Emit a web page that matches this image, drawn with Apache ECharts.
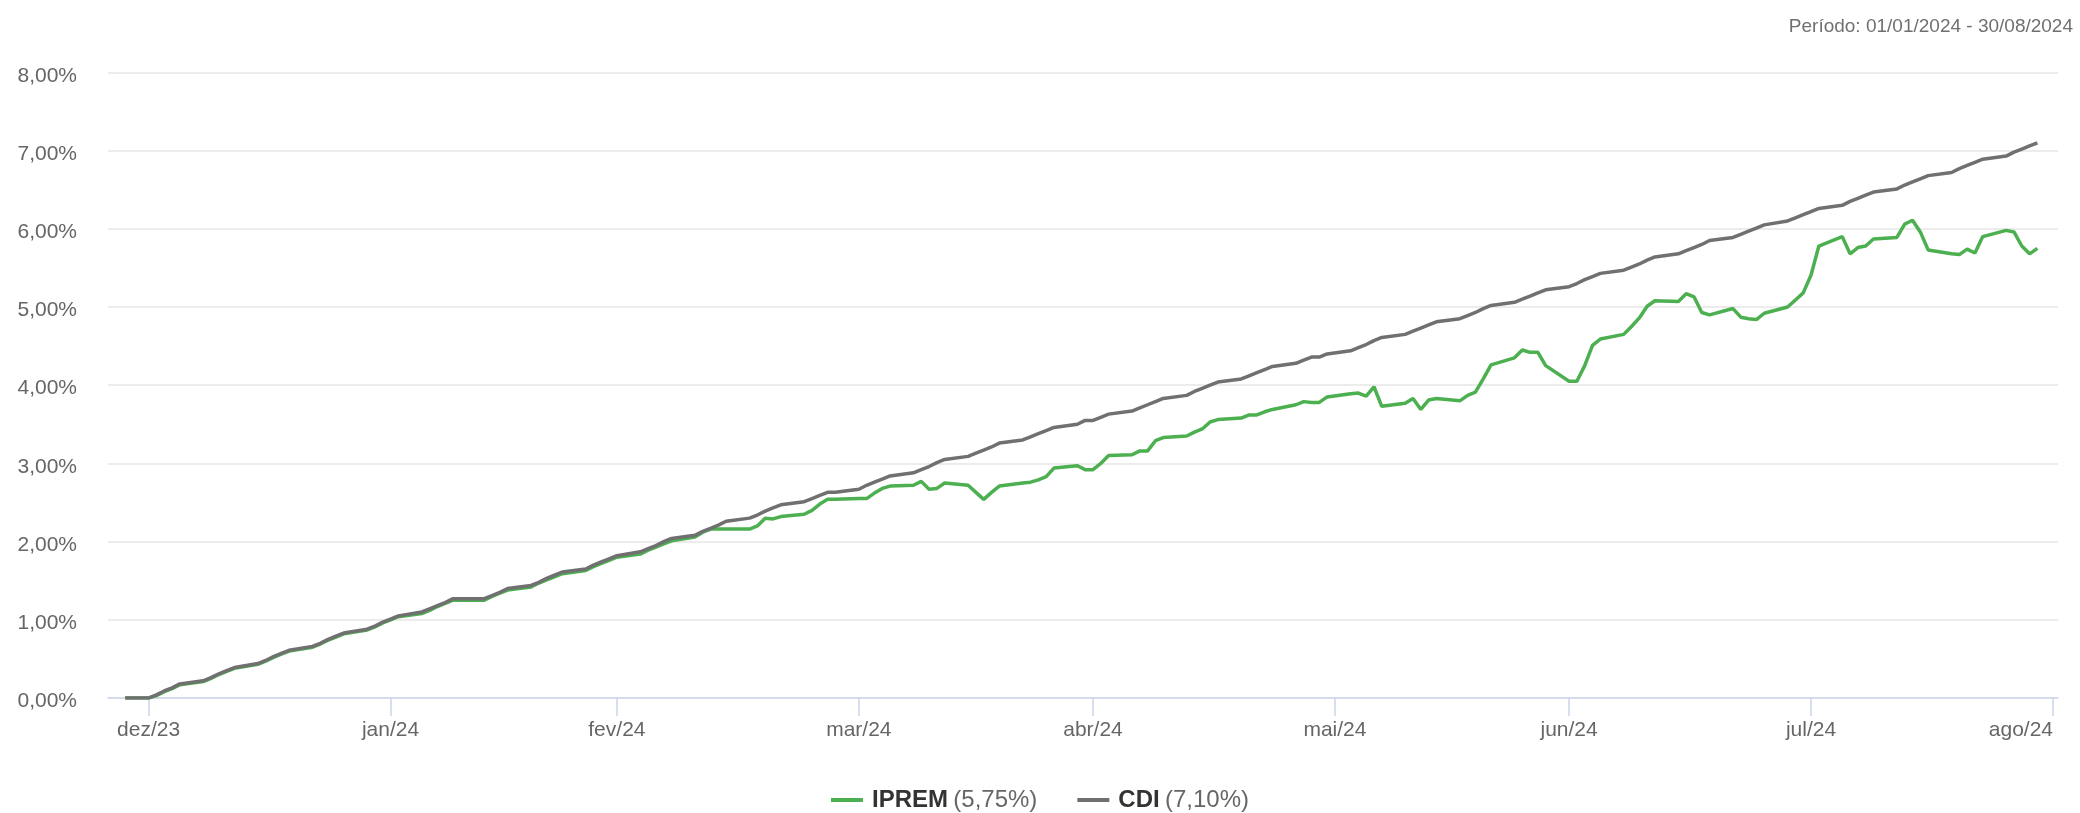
<!DOCTYPE html>
<html>
<head>
<meta charset="utf-8">
<script src="https://cdn.jsdelivr.net/npm/echarts@6/dist/echarts.min.js"></script>
<style>
html,body{margin:0;padding:0;background:#fff;}
#chart{width:2080px;height:813px;}
</style>
</head>
<body>
<div id="chart"></div>
<script>
// ---- DATA ----
const periodText = 'Período: 01/01/2024 - 30/08/2024';
const seriesNames = ['IPREM', 'CDI'];
const tickLabels = ['dez/23','jan/24','fev/24','mar/24','abr/24','mai/24','jun/24','jul/24','ago/24'];
const tickDates = [
  Date.UTC(2024,0,1), Date.UTC(2024,1,1), Date.UTC(2024,2,1), Date.UTC(2024,3,1),
  Date.UTC(2024,4,1), Date.UTC(2024,5,1), Date.UTC(2024,6,1), Date.UTC(2024,7,1), Date.UTC(2024,8,1)
];
const yTicks = [0,1,2,3,4,5,6,7,8];

// business days: 29/12/2023 and then Mon-Fri weeks from 01/01/2024 to 30/08/2024
const dates = [];
for (let d = Date.UTC(2023,11,29); d <= Date.UTC(2024,7,30); d += 86400000) {
  const wd = new Date(d).getUTCDay();
  if (wd >= 1 && wd <= 5) dates.push(d);
}

// cumulative return (%) — one row per week (Mon..Fri)
const cdi = [0.00,
  0.00,0.04,0.09,0.13,0.18,
  0.22,0.26,0.31,0.35,0.39,
  0.44,0.48,0.53,0.57,0.61,
  0.66,0.70,0.75,0.79,0.83,
  0.88,0.92,0.97,1.01,1.05,
  1.10,1.14,1.18,1.22,1.27,
  1.27,1.27,1.31,1.35,1.40,
  1.44,1.48,1.53,1.57,1.61,
  1.65,1.70,1.74,1.78,1.82,
  1.87,1.91,1.95,2.00,2.04,
  2.08,2.13,2.17,2.21,2.26,
  2.30,2.34,2.39,2.43,2.47,
  2.51,2.55,2.59,2.63,2.63,
  2.67,2.72,2.76,2.80,2.84,
  2.88,2.92,2.96,3.01,3.05,
  3.09,3.13,3.17,3.21,3.26,
  3.30,3.34,3.38,3.42,3.46,
  3.50,3.55,3.55,3.59,3.63,
  3.67,3.71,3.75,3.79,3.83,
  3.87,3.92,3.96,4.00,4.04,
  4.08,4.12,4.16,4.20,4.24,
  4.28,4.32,4.36,4.36,4.40,
  4.44,4.48,4.52,4.57,4.61,
  4.65,4.69,4.73,4.77,4.81,
  4.85,4.89,4.93,4.98,5.02,
  5.06,5.10,5.14,5.18,5.22,
  5.26,5.30,5.35,5.39,5.43,
  5.47,5.51,5.55,5.60,5.64,
  5.68,5.72,5.76,5.80,5.85,
  5.89,5.93,5.97,6.01,6.05,
  6.10,6.14,6.18,6.22,6.26,
  6.30,6.35,6.39,6.43,6.47,
  6.51,6.56,6.60,6.64,6.68,
  6.72,6.77,6.81,6.85,6.89,
  6.93,6.98,7.02,7.06,7.10
];

const iprem = [0.00,
  0.00,0.03,0.08,0.12,0.17,
  0.21,0.25,0.30,0.34,0.38,
  0.43,0.47,0.52,0.56,0.60,
  0.65,0.69,0.74,0.78,0.82,
  0.87,0.91,0.96,1.00,1.04,
  1.08,1.12,1.17,1.21,1.25,
  1.25,1.25,1.30,1.34,1.38,
  1.42,1.47,1.51,1.55,1.59,
  1.63,1.68,1.72,1.76,1.80,
  1.84,1.89,1.93,1.97,2.01,
  2.06,2.12,2.16,2.16,2.16,
  2.16,2.20,2.30,2.29,2.32,
  2.35,2.40,2.48,2.54,2.54,
  2.55,2.55,2.62,2.68,2.71,
  2.72,2.77,2.67,2.68,2.75,
  2.72,2.63,2.54,2.63,2.71,
  2.75,2.76,2.79,2.83,2.94,
  2.97,2.92,2.92,3.00,3.10,
  3.11,3.16,3.16,3.29,3.33,
  3.35,3.40,3.44,3.53,3.56,
  3.58,3.62,3.62,3.66,3.69,
  3.75,3.79,3.78,3.78,3.85,
  3.89,3.90,3.86,3.98,3.73,
  3.77,3.83,3.69,3.81,3.83,
  3.80,3.87,3.91,4.08,4.26,
  4.35,4.45,4.42,4.42,4.25,
  4.05,4.05,4.25,4.51,4.59,
  4.65,4.75,4.86,5.01,5.08,
  5.07,5.17,5.13,4.93,4.90,
  4.98,4.87,4.85,4.84,4.92,
  5.00,5.09,5.18,5.41,5.78,
  5.90,5.68,5.76,5.78,5.87,
  5.89,6.06,6.11,5.96,5.73,
  5.68,5.67,5.74,5.69,5.90,
  5.98,5.96,5.78,5.68,5.75
];

// ---- CHART ----
const FONT = '"Liberation Sans", Arial, sans-serif';
const fmtPct = v => v.toFixed(2).replace('.', ',') + '%';
const lastVal = { IPREM: iprem[iprem.length - 1], CDI: cdi[cdi.length - 1] };
const pair = arr => dates.map((d, i) => [d, arr[i]]);

const chart = echarts.init(document.getElementById('chart'), null, { renderer: 'canvas' });
chart.setOption({
  animation: false,
  backgroundColor: '#ffffff',
  textStyle: { fontFamily: FONT },
  title: {
    text: periodText,
    right: 2,
    top: 12,
    textStyle: { fontSize: 19, fontWeight: 'normal', color: '#707070', fontFamily: FONT }
  },
  legend: {
    data: seriesNames,
    left: 'center',
    top: 783,
    icon: 'rect',
    itemWidth: 32,
    itemHeight: 4,
    itemGap: 40,
    formatter: name => '{b|' + name + '} {v|(' + fmtPct(lastVal[name]) + ')}',
    textStyle: {
      fontFamily: FONT,
      padding: [0, 0, 0, 4],
      rich: {
        b: { fontSize: 24, fontWeight: 'bold', color: '#333333', fontFamily: FONT },
        v: { fontSize: 24, color: '#666666', fontFamily: FONT, padding: [0, 0, 0, 2] }
      }
    }
  },
  grid: { left: 108, right: 22, top: 72.4, bottom: 115, outerBoundsMode: 'none', containLabel: false },
  xAxis: {
    type: 'value',
    min: Date.UTC(2023,11,26,19,12),
    max: Date.UTC(2024,8,1,15,22),
    axisLine: { show: true, lineStyle: { color: '#ccd6eb', width: 1.5 } },
    axisTick: { show: true, customValues: tickDates, length: 18, lineStyle: { color: '#ccd6eb', width: 1.5 } },
    axisLabel: {
      customValues: tickDates,
      alignMaxLabel: 'right',
      formatter: v => {
        let best = 0;
        tickDates.forEach((t, i) => { if (Math.abs(t - v) < Math.abs(tickDates[best] - v)) best = i; });
        return tickLabels[best];
      },
      fontSize: 21, color: '#666666', margin: 22, fontFamily: FONT
    },
    splitLine: { show: false }
  },
  yAxis: {
    type: 'value',
    min: yTicks[0],
    max: yTicks[yTicks.length - 1],
    interval: 1,
    axisLine: { show: false },
    axisTick: { show: false },
    axisLabel: {
      formatter: v => fmtPct(v), fontSize: 21, color: '#666666', margin: 31, fontFamily: FONT,
      verticalAlign: 'top', lineHeight: 7
    },
    splitLine: { lineStyle: { color: '#e6e6e6', width: 1.5 } }
  },
  series: [
    {
      name: 'IPREM', type: 'line', data: pair(iprem), showSymbol: false,
      lineStyle: { width: 3.5, color: '#4caf50' }, itemStyle: { color: '#4caf50' }
    },
    {
      name: 'CDI', type: 'line', data: pair(cdi), showSymbol: false,
      lineStyle: { width: 3.5, color: '#707070' }, itemStyle: { color: '#707070' }
    }
  ]
});
</script>
</body>
</html>
